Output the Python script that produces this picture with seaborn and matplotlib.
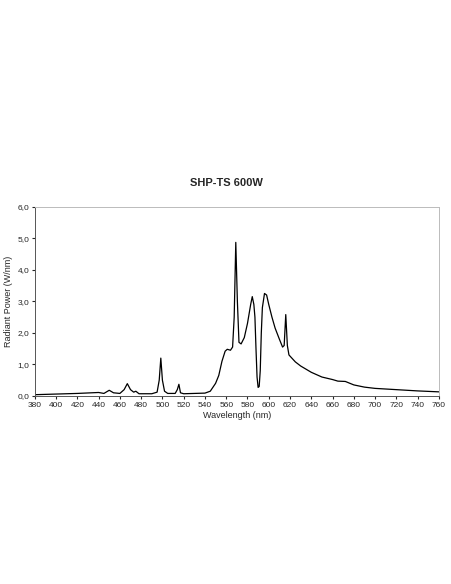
import matplotlib
matplotlib.use('Agg')
import matplotlib.pyplot as plt
import seaborn as sns
from matplotlib.ticker import FuncFormatter

# Spectrum points
wavelength = [380, 400, 420, 440, 445, 450, 454, 460, 464, 467, 470, 473, 475, 478, 490, 495,
              497, 498.5, 500, 502, 505, 512, 514, 515.5, 517, 520, 540, 545, 550, 553, 556,
              559, 561, 564, 566, 567.5, 569, 570.5, 572, 574, 577, 580, 583, 584.5, 586, 587,
              588, 589, 590, 591, 592, 593, 594, 596, 598, 600, 603, 606, 610, 613, 614.5, 616,
              617.5, 619, 625, 630, 640, 650, 660, 665, 672, 680, 690, 700, 720, 740, 760]
power = [0.04, 0.06, 0.08, 0.11, 0.08, 0.18, 0.10, 0.08, 0.20, 0.39, 0.20, 0.12, 0.15, 0.07, 0.07, 0.12,
         0.50, 1.20, 0.50, 0.15, 0.08, 0.08, 0.20, 0.37, 0.10, 0.07, 0.09, 0.15, 0.40, 0.65, 1.10,
         1.42, 1.48, 1.45, 1.55, 2.50, 4.87, 3.00, 1.70, 1.65, 1.85, 2.30, 2.90, 3.15, 2.90, 2.50,
         1.50, 0.60, 0.27, 0.30, 0.80, 2.00, 2.80, 3.25, 3.20, 2.90, 2.50, 2.15, 1.80, 1.55, 1.60, 2.58,
         1.60, 1.30, 1.08, 0.95, 0.75, 0.60, 0.52, 0.47, 0.46, 0.35, 0.28, 0.24, 0.20, 0.16, 0.13]

sns.set_style("white")
plt.rcParams['font.family'] = ['Liberation Sans', 'DejaVu Sans']

fig = plt.figure(figsize=(4.52, 5.84), dpi=100)
ax = fig.add_axes([0.077, 0.322, 0.894, 0.324])
sns.lineplot(x=wavelength, y=power, ax=ax, color='black', linewidth=0.9)

ax.set_xlim(380, 760)
ax.set_ylim(0, 6)
ax.set_xticks(range(380, 761, 20))
ax.set_yticks(range(0, 7))
ax.yaxis.set_major_formatter(FuncFormatter(lambda v, p: f"{v:.1f}".replace('.', ',')))
ax.tick_params(labelsize=6, length=2, direction='out', bottom=True, left=True, pad=2)
for s in ax.spines.values():
    s.set_color('#bbbbbb')
    s.set_linewidth(0.7)
ax.spines['left'].set_color('#555555')
ax.spines['bottom'].set_color('#555555')
ax.set_xlabel('Wavelength (nm)', fontsize=6.5, labelpad=2)
ax.set_ylabel('Radiant Power (W/nm)', fontsize=6.5, labelpad=3)
fig.text(0.5, 1 - 183 / 584, 'SHP-TS 600W', ha='center', va='center', fontsize=8, fontweight='bold')

fig.savefig('out.png', dpi=100)
